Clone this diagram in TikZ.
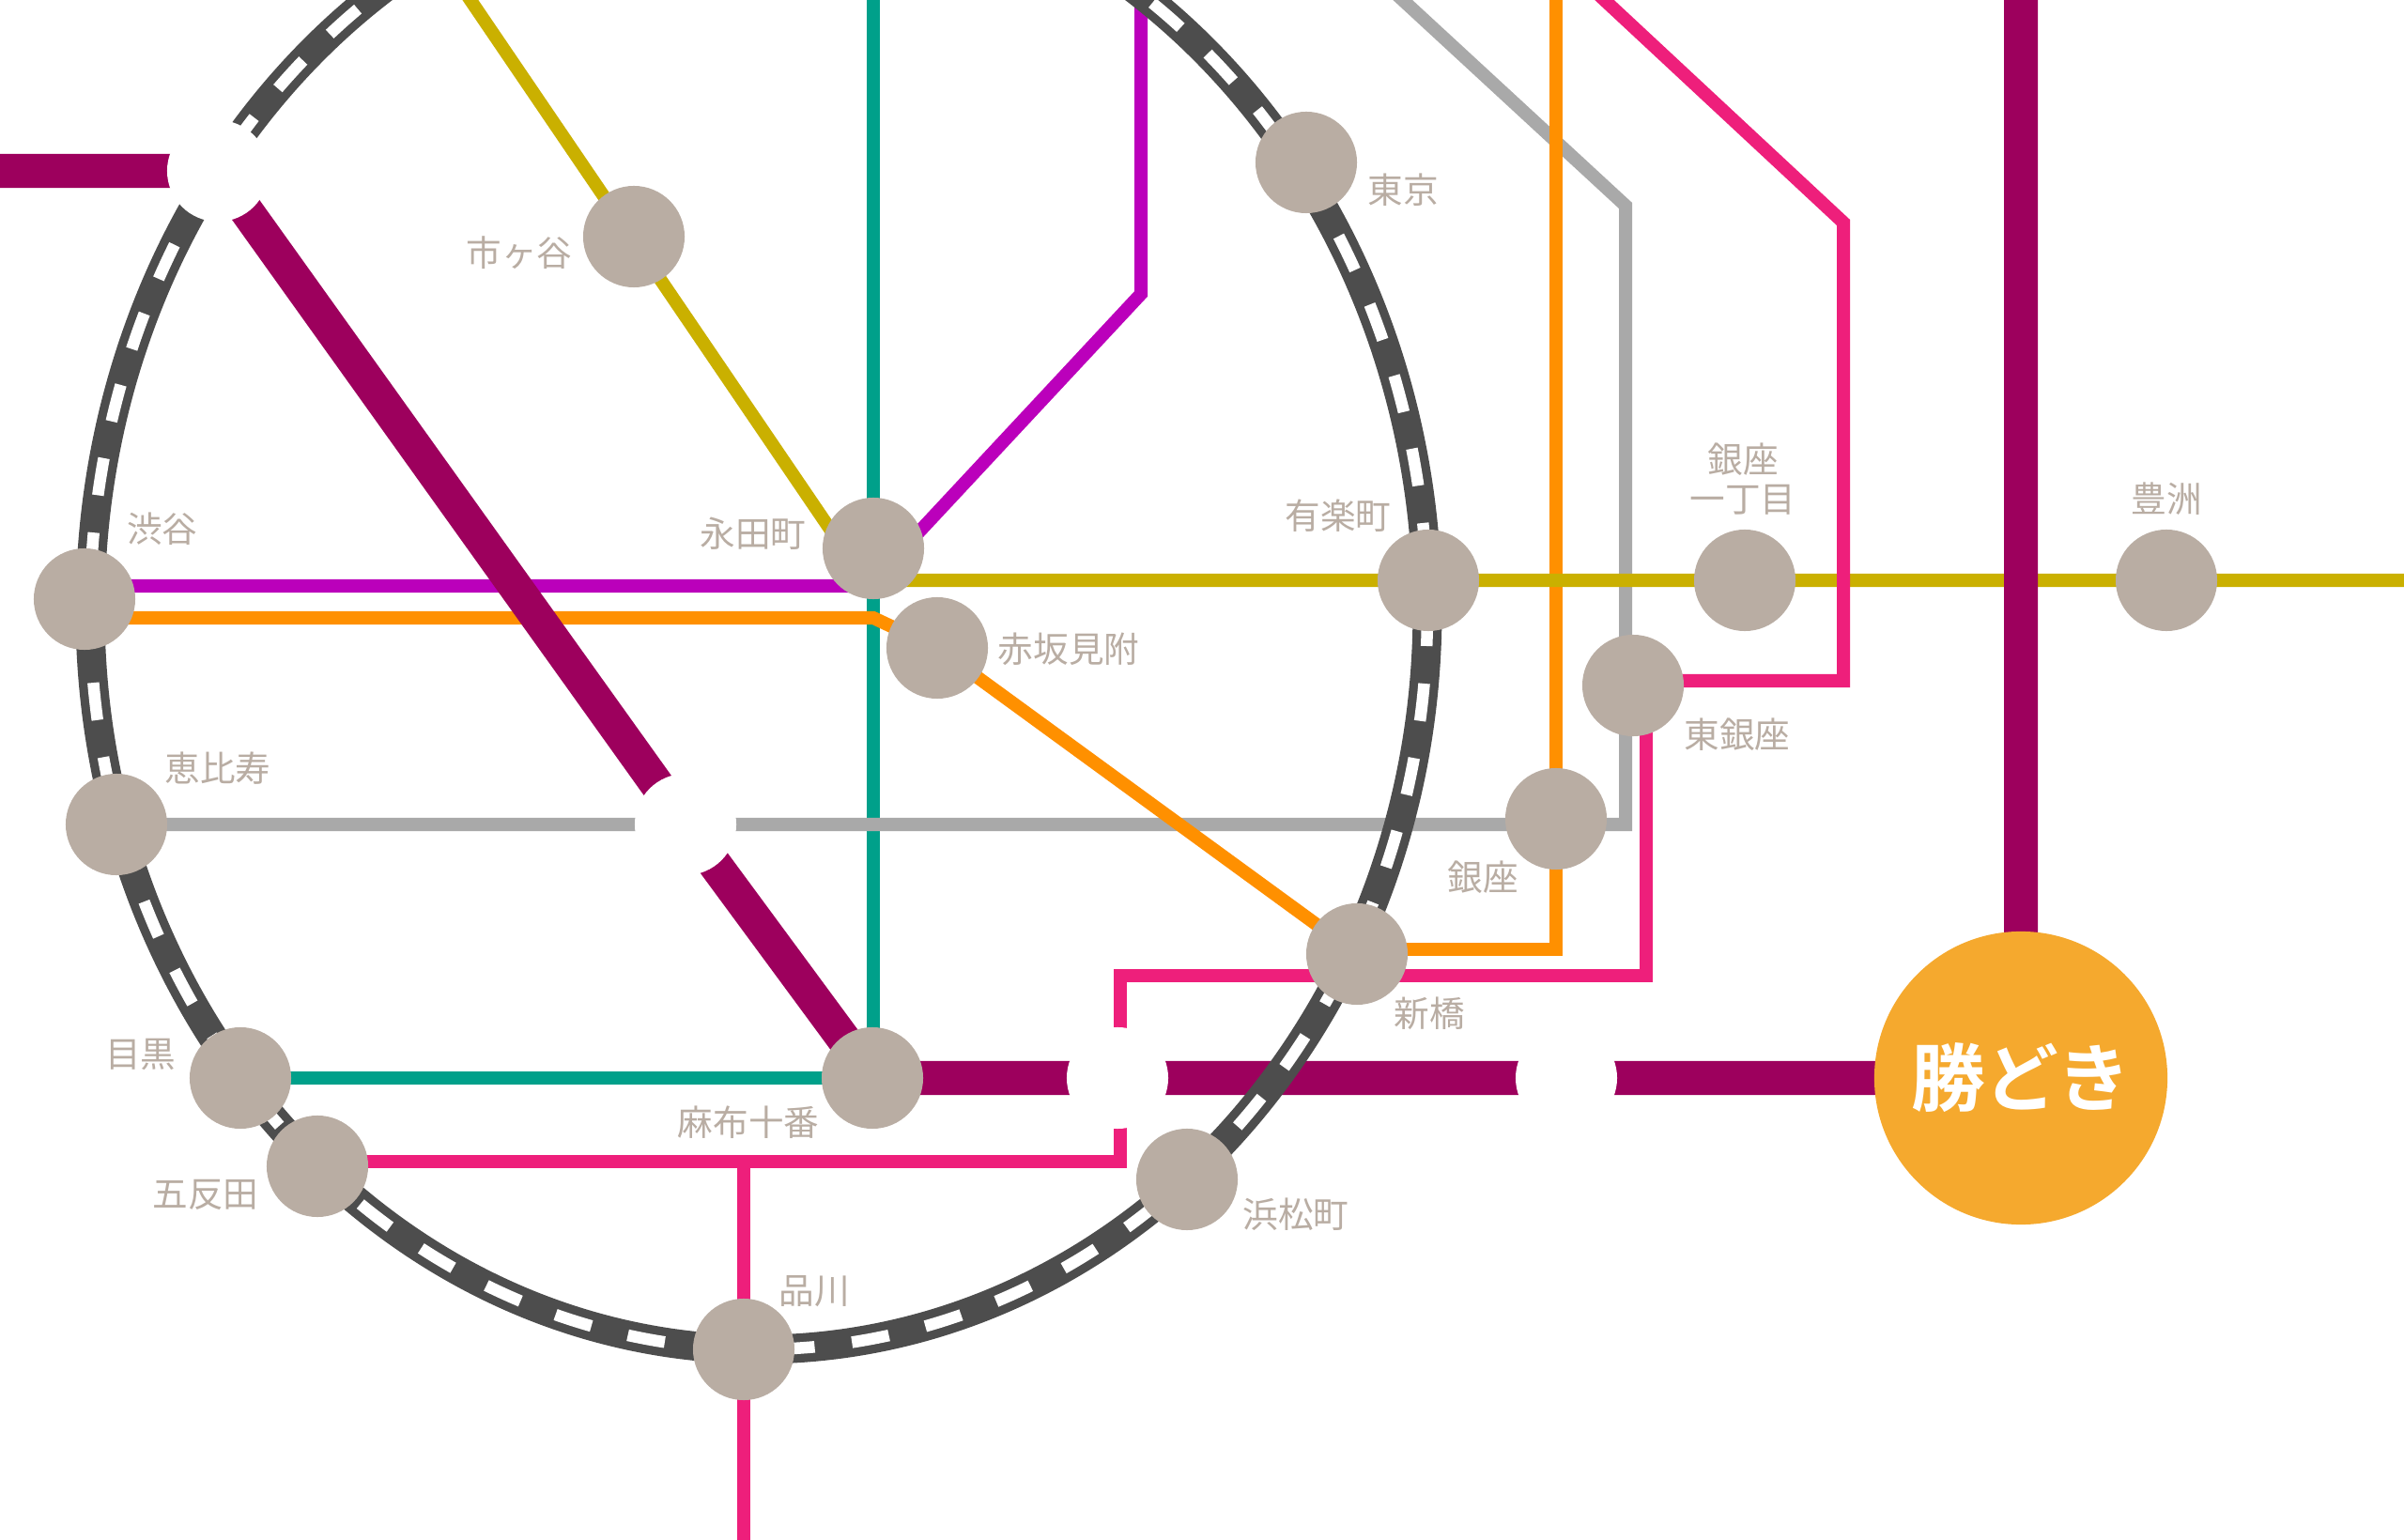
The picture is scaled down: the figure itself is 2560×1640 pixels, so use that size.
\documentclass[tikz,border=0pt]{standalone}
\usepackage{fontspec}
\setmainfont{Noto Sans CJK JP}
\newfontfamily\cjkbold[BoldFont={Noto Sans CJK JP Bold}]{Noto Sans CJK JP}
\definecolor{cgold}{HTML}{CAB000}
\definecolor{cteal}{HTML}{00A08A}
\definecolor{cviolet}{HTML}{BB00BB}
\definecolor{corange}{HTML}{FF9000}
\definecolor{cpink}{HTML}{EE1F7B}
\definecolor{cgray}{HTML}{A9A9A9}
\definecolor{cring}{HTML}{4D4D4D}
\definecolor{cwine}{HTML}{9D005D}
\definecolor{cstation}{HTML}{B9ADA3}
\definecolor{cterm}{HTML}{F5A92E}
\tikzset{
  thinline/.style={line width=0.14cm, line join=miter},
  thickline/.style={line width=0.36cm, color=cwine},
  station/.style={circle, fill=cstation, minimum size=1.08cm, inner sep=0pt},
  gapdot/.style={circle, fill=white, minimum size=1.08cm, inner sep=0pt},
  label/.style={text=cstation, font=\fontsize{10.7pt}{12pt}\selectfont, inner sep=0pt, align=center},
}
\def\ringpath{(1520,650) arc [start angle=0, end angle=180, x radius=712, y radius=787] arc [start angle=180, end angle=360, x radius=712, y radius=800] -- cycle}
\begin{document}
\begin{tikzpicture}[x=0.01cm,y=-0.01cm]
\useasboundingbox (0,0) rectangle (2560,1640);
\clip (0,0) rectangle (2560,1640);
\fill[white] (0,0) rectangle (2560,1640);
% positions
\coordinate (sIchi) at (675,252);
\coordinate (sTokyo) at (1391,173);
\coordinate (sNaga) at (930,584);
\coordinate (sAka) at (998,690);
\coordinate (sYura) at (1521,618);
\coordinate (sGin1) at (1858,618);
\coordinate (sHiga) at (1739,730);
\coordinate (sGinza) at (1657,872);
\coordinate (sToyo) at (2307,618);
\coordinate (sShin) at (1445,1016);
\coordinate (sHama) at (1264,1256);
\coordinate (sKachi) at (2152,1148);
\coordinate (sAzabu) at (929,1148);
\coordinate (sShina) at (792,1437);
\coordinate (sGota) at (338,1242);
\coordinate (sMegu) at (256,1148);
\coordinate (sEbi) at (124,878);
\coordinate (sShibu) at (90,638);
\coordinate (gA) at (232,182);
\coordinate (gB) at (730,878);
\coordinate (gC) at (1190,1148);
\coordinate (gD) at (1668,1148);
% free ends and corners
\coordinate (goldTop) at (490,-16);
\coordinate (goldBend) at (921,618);
\coordinate (goldEnd) at (2580,618);
\coordinate (tealTop) at (930,-20);
\coordinate (tealBend) at (930,1148);
\coordinate (vioL) at (90,624);
\coordinate (vioBend) at (925,624);
\coordinate (vioKnee) at (1215,313);
\coordinate (vioTop) at (1215,-20);
\coordinate (oraL) at (90,658);
\coordinate (oraBend) at (930,658);
\coordinate (oraR) at (1445,1011);
\coordinate (oraCorner) at (1657,1011);
\coordinate (oraTop) at (1657,-20);
\coordinate (grayCorner) at (1731,878);
\coordinate (grayKnee) at (1731,219);
\coordinate (grayTop) at (1472,-20);
\coordinate (pinkTop) at (1687,-20);
\coordinate (pinkKnee) at (1963,237);
\coordinate (pinkCorner) at (1963,725);
\coordinate (pinkH) at (1739,725);
\coordinate (pinkA) at (1753,730);
\coordinate (pinkB) at (1753,1039);
\coordinate (pinkC) at (1193,1039);
\coordinate (pinkD) at (1193,1237);
\coordinate (pinkE) at (338,1237);
\coordinate (pinkJ) at (792,1237);
\coordinate (pinkBot) at (792,1660);
\coordinate (wineL) at (-20,182);
\coordinate (wineTop) at (2152,-20);
% lines
\draw[thinline,cteal] (tealTop) -- (tealBend) -- (sMegu);
\draw[thinline,cgray] (sEbi) -- (grayCorner) -- (grayKnee) -- (grayTop);
\draw[thinline,corange] (oraL) -- (oraBend) -- (sAka) -- (sShin);
\draw[thinline,corange] (oraR) -- (oraCorner) -- (oraTop);
\draw[thinline,cviolet] (vioL) -- (vioBend) -- (vioKnee) -- (vioTop);
\draw[thinline,cgold] (goldTop) -- (goldBend) -- (goldEnd);
\draw[thinline,cpink] (pinkTop) -- (pinkKnee) -- (pinkCorner) -- (pinkH);
\draw[thinline,cpink] (pinkA) -- (pinkB) -- (pinkC) -- (pinkD) -- (pinkE);
\draw[thinline,cpink] (pinkJ) -- (pinkBot);
\draw[thickline] (wineL) -- (gA) -- (gB) -- (sAzabu) -- (sKachi) -- (wineTop);
% ring
\draw[cring,line width=0.31cm] \ringpath;
\draw[white,line width=0.125cm,dash pattern=on 0.40cm off 0.40cm,dash phase=0.02cm] \ringpath;
% gaps
\node[gapdot] (ga) at (gA) {};
\node[gapdot] (gb) at (gB) {};
\node[gapdot] (gc) at (gC) {};
\node[gapdot] (gd) at (gD) {};
% stations
\foreach \n/\c in {nIchi/sIchi,nTokyo/sTokyo,nNaga/sNaga,nAka/sAka,nYura/sYura,nGin1/sGin1,nHiga/sHiga,nGinza/sGinza,nToyo/sToyo,nShin/sShin,nHama/sHama,nAzabu/sAzabu,nShina/sShina,nGota/sGota,nMegu/sMegu,nEbi/sEbi,nShibu/sShibu}
  \node[station] (\n) at (\c) {};
\node[circle,fill=cterm,minimum size=3.12cm,inner sep=0pt,text=white,font=\cjkbold\bfseries\fontsize{22.4pt}{24pt}\selectfont] (nKachi) at (sKachi) {勝どき};
% labels
\node[label] (lIchi) at (553,269) {市ヶ谷};
\node[label] (lTokyo) at (1494,202) {東京};
\node[label] (lNaga) at (802,568) {永田町};
\node[label] (lYura) at (1425,549) {有楽町};
\node[label] (lGin1) at (1856,510) {銀座\\一丁目};
\node[label] (lToyo) at (2307,531) {豊洲};
\node[label] (lShibu) at (173,563) {渋谷};
\node[label] (lAka) at (1138,691) {赤坂見附};
\node[label] (lHiga) at (1850,782) {東銀座};
\node[label] (lEbi) at (232,818) {恵比寿};
\node[label] (lGinza) at (1579,934) {銀座};
\node[label] (lShin) at (1522,1079) {新橋};
\node[label] (lMegu) at (150,1123) {目黒};
\node[label] (lAzabu) at (797,1195) {麻布十番};
\node[label] (lGota) at (219,1272) {五反田};
\node[label] (lHama) at (1380,1293) {浜松町};
\node[label] (lShina) at (867,1375) {品川};
\end{tikzpicture}
\end{document}
